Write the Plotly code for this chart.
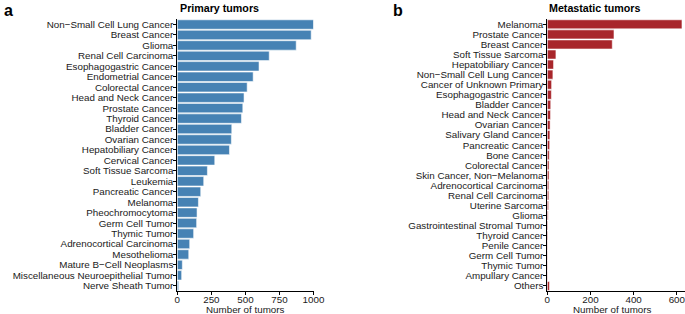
import plotly.graph_objects as go

primary_types = [
    "Non−Small Cell Lung Cancer", "Breast Cancer", "Glioma", "Renal Cell Carcinoma",
    "Esophagogastric Cancer", "Endometrial Cancer", "Colorectal Cancer", "Head and Neck Cancer",
    "Prostate Cancer", "Thyroid Cancer", "Bladder Cancer", "Ovarian Cancer",
    "Hepatobiliary Cancer", "Cervical Cancer", "Soft Tissue Sarcoma", "Leukemia",
    "Pancreatic Cancer", "Melanoma", "Pheochromocytoma", "Germ Cell Tumor",
    "Thymic Tumor", "Adrenocortical Carcinoma", "Mesothelioma", "Mature B−Cell Neoplasms",
    "Miscellaneous Neuroepithelial Tumor", "Nerve Sheath Tumor",
]
primary_counts = [1000, 983, 873, 675, 600, 557, 513, 490, 481, 471, 400, 397,
                  383, 275, 221, 194, 172, 155, 145, 142, 120, 91, 84, 37, 32, 10]

meta_types = [
    "Melanoma", "Prostate Cancer", "Breast Cancer", "Soft Tissue Sarcoma",
    "Hepatobiliary Cancer", "Non−Small Cell Lung Cancer", "Cancer of Unknown Primary",
    "Esophagogastric Cancer", "Bladder Cancer", "Head and Neck Cancer", "Ovarian Cancer",
    "Salivary Gland Cancer", "Pancreatic Cancer", "Bone Cancer", "Colorectal Cancer",
    "Skin Cancer, Non−Melanoma", "Adrenocortical Carcinoma", "Renal Cell Carcinoma",
    "Uterine Sarcoma", "Glioma", "Gastrointestinal Stromal Tumor", "Thyroid Cancer",
    "Penile Cancer", "Germ Cell Tumor", "Thymic Tumor", "Ampullary Cancer", "Others",
]
meta_counts = [624, 309, 301, 40, 29, 26, 20, 19, 16, 15, 13, 12, 11, 9, 8, 8, 7, 7,
               6, 4, 3, 3, 2, 2, 2, 2, 10]

primary_ticks = [0, 250, 500, 750, 1000]
meta_ticks = [0, 200, 400, 600]

W, H = 685, 314
FONT = "Liberation Sans, Arial, sans-serif"
TXT = "#1a1a1a"
FS = 9.8

fig = go.Figure()
fig.add_trace(go.Bar(
    x=primary_counts, y=primary_types, orientation="h",
    marker=dict(color="#4682B4", line=dict(color="rgba(255,255,255,0.55)", width=1)),
    xaxis="x", yaxis="y", showlegend=False, hoverinfo="skip",
))
fig.add_trace(go.Bar(
    x=meta_counts, y=meta_types, orientation="h",
    marker=dict(color="#A8262B", line=dict(color="rgba(255,255,255,0.55)", width=1)),
    xaxis="x2", yaxis="y2", showlegend=False, hoverinfo="skip",
))

ydom = [(H - 291) / H, (H - 19.3) / H]
axis_common = dict(
    showgrid=False, zeroline=False, showline=True, linecolor="black", linewidth=1,
    ticks="outside", ticklen=3, tickwidth=1, tickcolor="black", automargin=False,
    tickfont=dict(family=FONT, size=FS, color=TXT), ticklabeloverflow="allow",
)

fig.update_layout(
    width=W, height=H,
    margin=dict(l=0, r=0, t=0, b=0, pad=0),
    paper_bgcolor="white", plot_bgcolor="white",
    bargap=0.1,
    font=dict(family=FONT, color=TXT),
    xaxis=dict(domain=[177.3 / W, 313.5 / W], range=[0, 1000], tickmode="array",
               tickvals=primary_ticks, anchor="y", ticklabelstandoff=-4, **axis_common),
    yaxis=dict(domain=ydom, type="category", categoryorder="array", categoryarray=primary_types,
               tickmode="array", tickvals=primary_types, ticklabelstandoff=-2,
               range=[len(primary_types) - 0.5, -0.5], anchor="x", **axis_common),
    xaxis2=dict(domain=[547.3 / W, 1.0], range=[0, 638], tickmode="array",
                tickvals=meta_ticks, anchor="y2", ticklabelstandoff=-4, **axis_common),
    yaxis2=dict(domain=ydom, type="category", categoryorder="array", categoryarray=meta_types,
                tickmode="array", tickvals=meta_types, ticklabelstandoff=-2,
                range=[len(meta_types) - 0.5, -0.5], anchor="x2", **axis_common),
    annotations=[
        dict(text="<b>Primary tumors</b>", x=177.5 / W, y=1 - 8 / H, xref="paper", yref="paper",
             xanchor="left", yanchor="middle", showarrow=False,
             font=dict(family=FONT, size=10.7, color="black")),
        dict(text="<b>Metastatic tumors</b>", x=547 / W, y=1 - 8 / H, xref="paper", yref="paper",
             xanchor="left", yanchor="middle", showarrow=False,
             font=dict(family=FONT, size=10.7, color="black")),
        dict(text="<b>a</b>", x=2 / W, y=1.0, xref="paper", yref="paper",
             xanchor="left", yanchor="top", showarrow=False,
             font=dict(family=FONT, size=16, color="black")),
        dict(text="<b>b</b>", x=391 / W, y=1.0, xref="paper", yref="paper",
             xanchor="left", yanchor="top", showarrow=False,
             font=dict(family=FONT, size=16, color="black")),
        dict(text="Number of tumors", x=245 / W, y=1 - 309 / H, xref="paper", yref="paper",
             xanchor="center", yanchor="middle", showarrow=False,
             font=dict(family=FONT, size=FS, color=TXT)),
        dict(text="Number of tumors", x=612 / W, y=1 - 309 / H, xref="paper", yref="paper",
             xanchor="center", yanchor="middle", showarrow=False,
             font=dict(family=FONT, size=FS, color=TXT)),
    ],
)

fig.write_html(
    "out.html",
    config={"displayModeBar": False, "staticPlot": True},
    post_script="document.body.style.margin='0';document.body.style.overflow='hidden';",
)
